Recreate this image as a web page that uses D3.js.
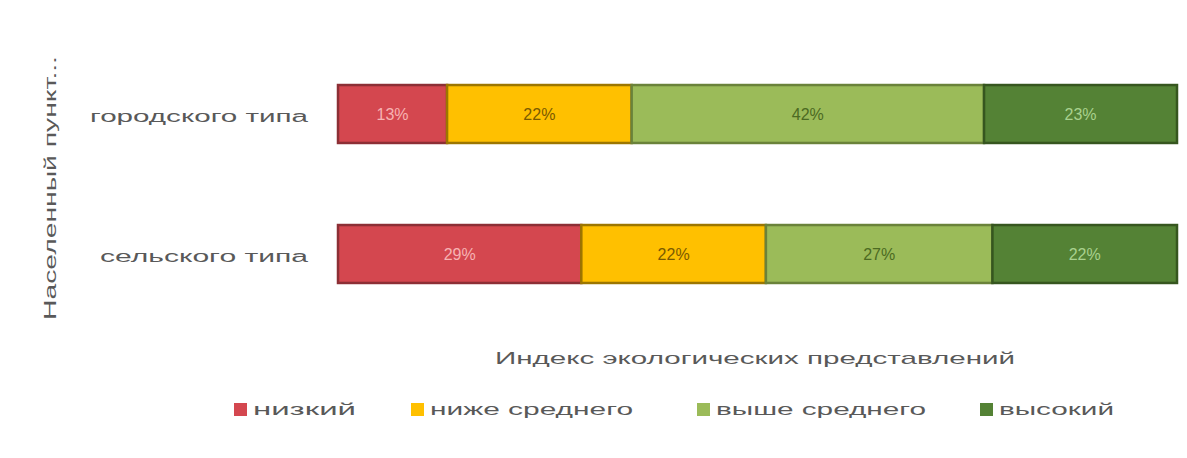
<!DOCTYPE html>
<html><head><meta charset="utf-8">
<script src="https://cdn.jsdelivr.net/npm/d3@7"></script>
<style>body{margin:0;background:#fff;}svg{display:block;font-family:"Liberation Sans",Arial,sans-serif;}</style>
</head><body><svg id="c" width="1187" height="458"></svg>
<script>
const categories = ["городского типа", "сельского типа"];
const seriesNames = ["низкий", "ниже среднего", "выше среднего", "высокий"];
const low = [13, 29];
const belowAvg = [22, 22];
const aboveAvg = [42, 27];
const high = [23, 22];
const xTitle = "Индекс экологических представлений";
const yTitle = "Населенный пункт...";

const fills = ["#d4474f", "#ffc000", "#9bbb59", "#548235"];
const strokes = ["#8c2f35", "#9c7600", "#6a823a", "#36561f"];
const labelColors = ["#f7b3b3", "#7a5a00", "#4b6a22", "#a9d18e"];

const svg = d3.select("#c");
const seriesVals = [low, belowAvg, aboveAvg, high];
const rows = categories.map((c, i) => {
  const o = {cat: c};
  seriesNames.forEach((s, j) => o[s] = seriesVals[j][i]);
  return o;
});
const stacked = d3.stack().keys(seriesNames)(rows);

const x = d3.scaleLinear().domain([0, 100]).range([338, 1177]);
const y = d3.scaleBand().domain(categories).range([44, 324]).paddingInner(0.586).paddingOuter(0.293);

const g = svg.append("g");
stacked.forEach((layer, j) => {
  g.selectAll(null).data(layer).enter().append("rect")
    .attr("x", d => x(d[0]))
    .attr("y", d => y(d.data.cat))
    .attr("width", d => x(d[1]) - x(d[0]))
    .attr("height", y.bandwidth())
    .attr("fill", fills[j])
    .attr("stroke", strokes[j])
    .attr("stroke-width", 2.5);
  g.selectAll(null).data(layer).enter().append("text")
    .attr("x", d => (x(d[0]) + x(d[1])) / 2)
    .attr("y", d => y(d.data.cat) + y.bandwidth() / 2 + 6)
    .attr("text-anchor", "middle")
    .attr("font-size", 16)
    .attr("fill", labelColors[j])
    .text(d => (d[1] - d[0]) + "%");
});

// category labels
const yAxis = d3.axisLeft(y).tickSize(0).tickPadding(30);
const ya = svg.append("g").attr("transform", "translate(338,0)").call(yAxis);
ya.select(".domain").remove();
ya.selectAll("text").attr("font-size", 16).attr("fill", "#595959")
  .attr("font-family", "Liberation Sans, Arial, sans-serif")
  .attr("dy", "0.5em")
  .attr("textLength", (d) => d === categories[0] ? 218 : 208)
  .attr("lengthAdjust", "spacingAndGlyphs");

// axis titles
svg.append("text").attr("x", 755).attr("y", 364).attr("text-anchor", "middle")
  .attr("font-size", 17).attr("fill", "#595959")
  .attr("textLength", 520).attr("lengthAdjust", "spacingAndGlyphs").text(xTitle);
svg.append("text").attr("transform", "translate(56,188) rotate(-90)").attr("text-anchor", "middle")
  .attr("font-size", 16).attr("fill", "#595959")
  .attr("textLength", 264).attr("lengthAdjust", "spacingAndGlyphs").text(yTitle);

// legend
const legX = [234, 411, 697, 980];
const legW = [103, 203, 210, 115];
const leg = svg.append("g");
seriesNames.forEach((s, j) => {
  leg.append("rect").attr("x", legX[j]).attr("y", 403).attr("width", 13).attr("height", 13).attr("fill", fills[j]);
  leg.append("text").attr("x", legX[j] + 19).attr("y", 415).attr("font-size", 16).attr("fill", "#595959")
    .attr("textLength", legW[j]).attr("lengthAdjust", "spacingAndGlyphs").text(s);
});
</script></body></html>
